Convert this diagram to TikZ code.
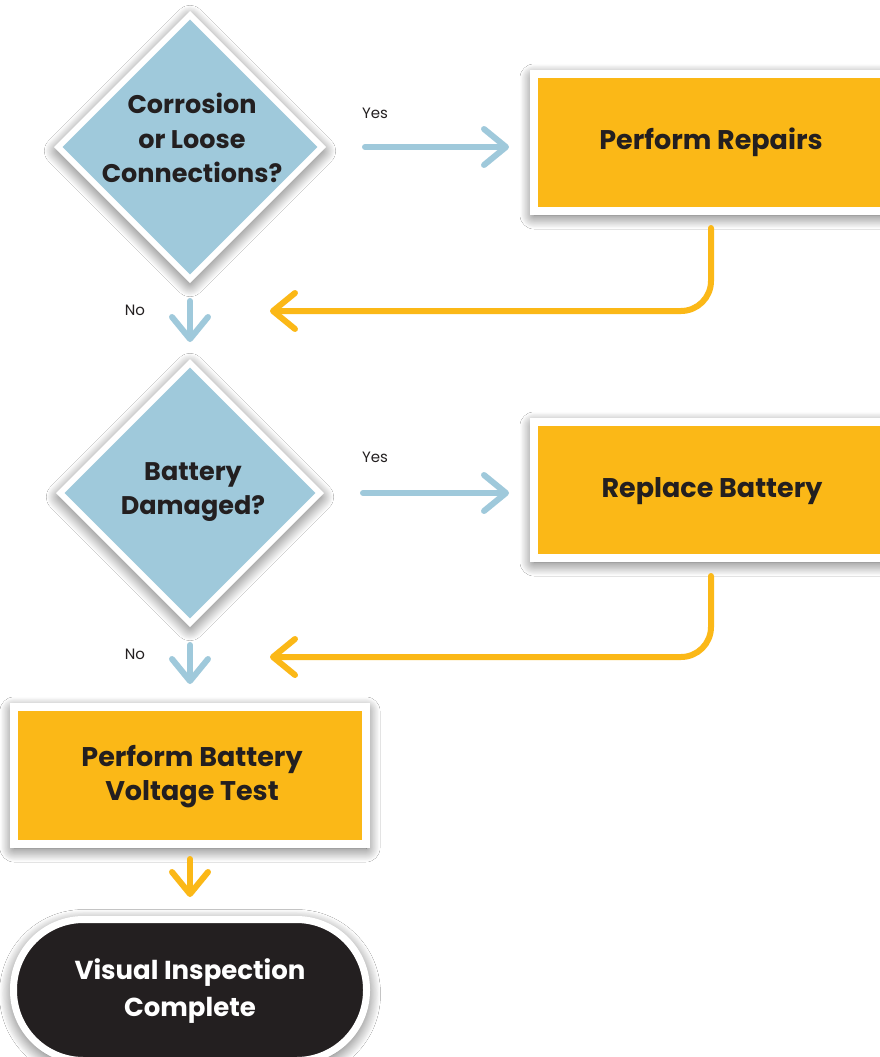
\documentclass[tikz,border=0pt]{standalone}
\usepackage{fontspec}
\setmainfont{Poppins}
\usetikzlibrary{shapes.geometric,arrows.meta,shadows.blur}
\definecolor{fblue}{HTML}{9FC9DB}
\definecolor{forange}{HTML}{FBB817}
\definecolor{fdark}{HTML}{231F20}
\tikzset{
  shadowed/.style={blur shadow={shadow xshift=0pt, shadow yshift=-4pt, shadow blur radius=14pt, shadow blur steps=16, shadow opacity=70}},
  decision/.style={diamond, aspect=1, inner sep=0pt, minimum width=#1, minimum height=#1, fill=fblue, draw=white, line width=6pt, shadowed},
  actbox/.style={rectangle, inner sep=0pt, fill=forange, draw=white, line width=8pt, shadowed},
  endbox/.style={rectangle, rounded corners=70pt, inner sep=0pt, fill=fdark, draw=white, line width=7pt, shadowed},
  btxt/.style={font=\fontsize{27}{34}\selectfont\bfseries, text=fdark, align=center, inner sep=0pt},
  dtxt/.style={font=\fontsize{25.5}{34.5}\selectfont\bfseries, text=fdark, align=center, inner sep=0pt},
  wtxt/.style={font=\fontsize{26}{37}\selectfont\bfseries, text=white, align=center, inner sep=0pt},
  lbl/.style={font=\fontsize{15}{18}\selectfont, text=fdark, inner sep=0pt},
  barrow/.style={draw=fblue, line width=6pt, line cap=round, -{Straight Barb[length=22pt, width=36pt, round]}},
  oarrow/.style={draw=forange, line width=6pt, line cap=round, -{Straight Barb[length=22pt, width=36pt, round]}},
}
\begin{document}
\begin{tikzpicture}[x=1pt, y=-1pt]
\useasboundingbox (0,0) rectangle (880,1057);
\clip (0,0) rectangle (880,1057);
\fill[white] (0,0) rectangle (880,1057);
% shapes
\node[decision=266pt] (d1) at (190,147) {};
\node[dtxt] (d1t) at (192,138) {Corrosion\\or Loose\\Connections?};
\node[actbox, minimum width=354pt, minimum height=137pt] (b1) at (711,142.5) {};
\node[btxt] (b1t) at (711,142) {Perform Repairs};
\node[decision=262pt] (d2) at (190,493) {};
\node[dtxt] (d2t) at (193,492) {Battery\\Damaged?};
\node[actbox, minimum width=354pt, minimum height=136pt] (b2) at (711,490) {};
\node[btxt] (b2t) at (712,491) {Replace Battery};
\node[actbox, minimum width=352pt, minimum height=137pt] (b3) at (190,775.5) {};
\node[btxt] (b3t) at (192,777) {Perform Battery\\Voltage Test};
\node[endbox, minimum width=353pt, minimum height=141pt] (t) at (190,990) {};
\node[wtxt] (tt) at (190,991) {Visual Inspection\\Complete};
% labels
\node[lbl] (yes1) at (375,113) {Yes};
\node[lbl] (no1) at (135,310) {No};
\node[lbl] (yes2) at (375,457) {Yes};
\node[lbl] (no2) at (135,654) {No};
% merge points
\coordinate (m1) at (190,311);
\coordinate (m2) at (190,657);
% connectors
\draw[barrow, shorten <=39pt, shorten >=21pt] (d1.east) -- (d1.east -| b1.west);
\draw[barrow, shorten <=18pt, shorten >=17pt] (d1.south) -- (d2.north);
\draw[oarrow, rounded corners=30pt, shorten <=13pt, shorten >=80pt] (b1.south) |- (m1);
\draw[barrow, shorten <=39pt, shorten >=21pt] (d2.east) -- (d2.east -| b2.west);
\draw[barrow, shorten <=18pt, shorten >=19pt] (d2.south) -- (b3.north);
\draw[oarrow, rounded corners=30pt, shorten <=14pt, shorten >=80pt] (b2.south) |- (m2);
\draw[oarrow, shorten <=11pt, shorten >=19pt] (b3.south) -- (t.north);
\end{tikzpicture}
\end{document}
